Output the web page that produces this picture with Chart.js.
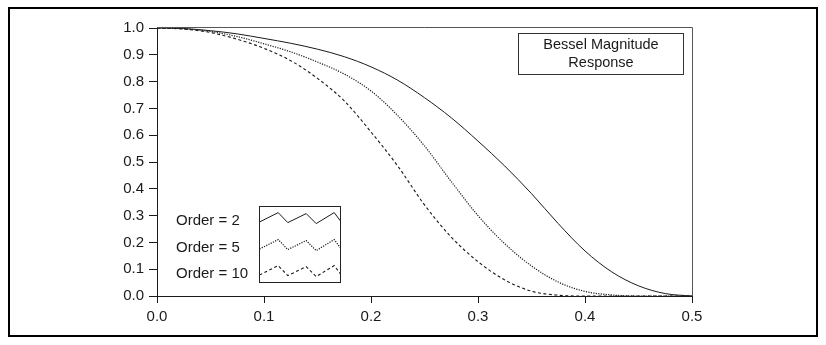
<!DOCTYPE html>
<html>
<head>
<meta charset="utf-8">
<title>Bessel Magnitude Response</title>
<script src="https://cdn.jsdelivr.net/npm/chart.js@4.4.1/dist/chart.umd.min.js"></script>
<style>
  html, body { margin: 0; padding: 0; background: #fff; }
  canvas { display: block; }
</style>
</head>
<body>
<canvas id="besselChart" width="826" height="345"></canvas>
<script>
// normalized frequency and magnitude for each filter order
const freq    = [0, 0.025, 0.05, 0.075, 0.1, 0.125, 0.15, 0.175, 0.2, 0.225, 0.25,
                 0.275, 0.3, 0.325, 0.35, 0.375, 0.4, 0.425, 0.45, 0.475, 0.5];
const order2  = [1.0, 0.998, 0.990, 0.978, 0.961, 0.943, 0.921, 0.893, 0.855, 0.805, 0.740,
                 0.665, 0.578, 0.485, 0.382, 0.270, 0.168, 0.090, 0.038, 0.009, 0.0];
const order5  = [1.0, 0.997, 0.987, 0.968, 0.941, 0.911, 0.873, 0.828, 0.765, 0.673, 0.560,
                 0.427, 0.300, 0.195, 0.112, 0.052, 0.017, 0.004, 0.0, 0.0, 0.0];
const order10 = [1.0, 0.996, 0.983, 0.958, 0.924, 0.878, 0.812, 0.728, 0.612, 0.485, 0.340,
                 0.220, 0.128, 0.060, 0.018, 0.003, 0.0, 0.0, 0.0, 0.0, 0.0];

const xTicks = [0, 0.1, 0.2, 0.3, 0.4, 0.5];
const yTicks = [0, 0.1, 0.2, 0.3, 0.4, 0.5, 0.6, 0.7, 0.8, 0.9, 1.0];

const seriesLabels = ['Order = 2', 'Order = 5', 'Order = 10'];
const seriesDash = [[], [1.2, 1.3], [3, 2.5]];
const seriesWidth = [1, 1.2, 1.1];
const titleLines = ['Bessel Magnitude', 'Response'];

const FONT = '"Liberation Sans", Arial, Helvetica, sans-serif';
const INK = '#1a1a1a';

function toPoints(ys) {
    return freq.map((f, i) => ({ x: f, y: ys[i] }));
}

const datasets = [order2, order5, order10].map((ys, i) => ({
    label: seriesLabels[i],
    data: toPoints(ys),
    borderColor: INK,
    borderWidth: seriesWidth[i],
    borderDash: seriesDash[i],
    pointRadius: 0,
    fill: false,
    cubicInterpolationMode: 'monotone'
}));

// frame, caption box and hand-drawn legend with zigzag samples
const decorPlugin = {
    id: 'decor',
    afterDraw(chart) {
        const { ctx, chartArea: a } = chart;
        ctx.save();

        // outer border
        ctx.strokeStyle = '#000';
        ctx.lineWidth = 2;
        ctx.strokeRect(9, 8, 808, 328);

        // top and right edges of the plot
        ctx.lineWidth = 1;
        ctx.strokeStyle = '#555';
        ctx.beginPath();
        ctx.moveTo(a.left, a.top - 0.5);
        ctx.lineTo(a.right + 0.5, a.top - 0.5);
        ctx.lineTo(a.right + 0.5, a.bottom);
        ctx.stroke();

        // caption box
        ctx.strokeStyle = '#333';
        ctx.strokeRect(518.5, 33.5, 165, 41);
        ctx.fillStyle = INK;
        ctx.font = '14.5px ' + FONT;
        ctx.textAlign = 'center';
        ctx.textBaseline = 'middle';
        titleLines.forEach((t, i) => ctx.fillText(t, 601, 45 + i * 18));

        // legend box
        ctx.strokeStyle = '#222';
        ctx.strokeRect(259.5, 206.5, 81, 76);
        const zx = [0, 18.7, 28.3, 46.7, 56.7, 74.7, 81];
        const zy = [0, -9.4, 0.6, -8.4, 1.6, -9.4, -1];
        const rows = [222, 249, 275];
        ctx.font = '15px ' + FONT;
        ctx.textAlign = 'left';
        seriesLabels.forEach((lbl, r) => {
            ctx.fillStyle = INK;
            ctx.fillText(lbl, 176, rows[r] - 1);
            ctx.save();
            ctx.beginPath();
            ctx.rect(260, 207, 80, 75);
            ctx.clip();
            ctx.setLineDash(seriesDash[r]);
            ctx.strokeStyle = INK;
            ctx.lineWidth = seriesWidth[r];
            ctx.beginPath();
            zx.forEach((dx, k) => {
                const px = 259.5 + dx, py = rows[r] + zy[k];
                if (k === 0) ctx.moveTo(px, py); else ctx.lineTo(px, py);
            });
            ctx.stroke();
            ctx.restore();
        });

        ctx.restore();
    }
};

const ctx = document.getElementById('besselChart').getContext('2d');
const besselChart = new Chart(ctx, {
    type: 'line',
    data: { datasets: datasets },
    options: {
        responsive: false,
        animation: false,
        devicePixelRatio: 1,
        layout: { padding: { left: 0, top: 28, right: 134, bottom: 0 } },
        plugins: {
            legend: { display: false },
            tooltip: { enabled: false }
        },
        scales: {
            x: {
                type: 'linear',
                min: 0,
                max: 0.5,
                afterBuildTicks: scale => { scale.ticks = xTicks.map(v => ({ value: v })); },
                afterFit: scale => { scale.height = 49; },
                ticks: {
                    color: INK,
                    font: { family: FONT, size: 15 },
                    padding: 5,
                    maxRotation: 0,
                    callback: v => v.toFixed(1)
                },
                grid: { drawOnChartArea: false, drawTicks: true, tickLength: 7, color: INK },
                border: { display: true, color: INK, width: 1 }
            },
            y: {
                min: 0,
                max: 1,
                afterBuildTicks: scale => { scale.ticks = yTicks.map(v => ({ value: v })); },
                afterFit: scale => { scale.width = 157; },
                ticks: {
                    color: INK,
                    font: { family: FONT, size: 15 },
                    padding: 5,
                    callback: v => v.toFixed(1)
                },
                grid: { drawOnChartArea: false, drawTicks: true, tickLength: 8, color: INK },
                border: { display: true, color: INK, width: 1 }
            }
        }
    },
    plugins: [decorPlugin]
});
</script>
</body>
</html>
